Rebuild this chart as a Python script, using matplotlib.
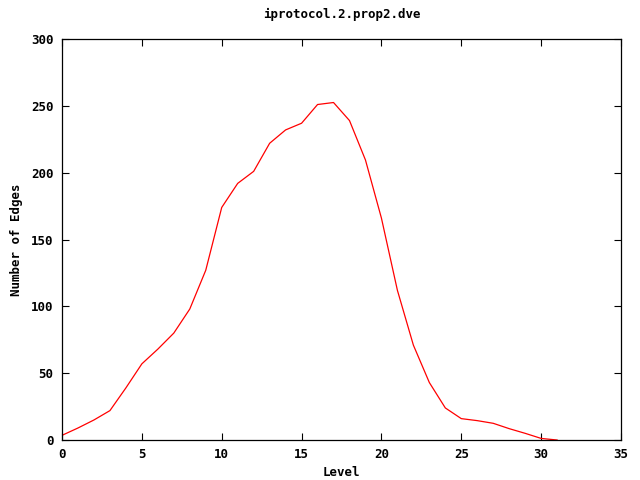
import matplotlib
import matplotlib.pyplot as plt

matplotlib.use('Agg')

levels = list(range(0, 32))
edges = [3.5, 9, 15, 22, 39, 57, 68, 80, 98, 127, 174, 192, 201, 222,
         232, 237, 251, 252.5, 239, 209.5, 166, 112, 71, 43, 24, 16,
         14.5, 12.5, 8.5, 5, 1.2, 0]

plt.rcParams['font.family'] = 'DejaVu Sans Mono'
plt.rcParams['font.weight'] = 'bold'
plt.rcParams['font.size'] = 9

fig = plt.figure(figsize=(6.4, 4.8), dpi=100)
ax = fig.add_axes([0.0969, 0.0833, 0.8734, 0.8354])

ax.plot(levels, edges, color='#ff0000', linewidth=0.9)

ax.set_xlim(0, 35)
ax.set_ylim(0, 300)
ax.set_xticks(range(0, 36, 5))
ax.set_yticks(range(0, 301, 50))
ax.tick_params(direction='in', top=True, right=True, length=5, width=0.8, pad=6)
for s in ax.spines.values():
    s.set_linewidth(0.9)

ax.set_title('iprotocol.2.prop2.dve', fontsize=9, fontweight='bold', pad=15)
ax.set_xlabel('Level', fontweight='bold', labelpad=3)
ax.set_ylabel('Number of Edges', fontweight='bold', labelpad=6)

plt.savefig('out.png', dpi=100)
